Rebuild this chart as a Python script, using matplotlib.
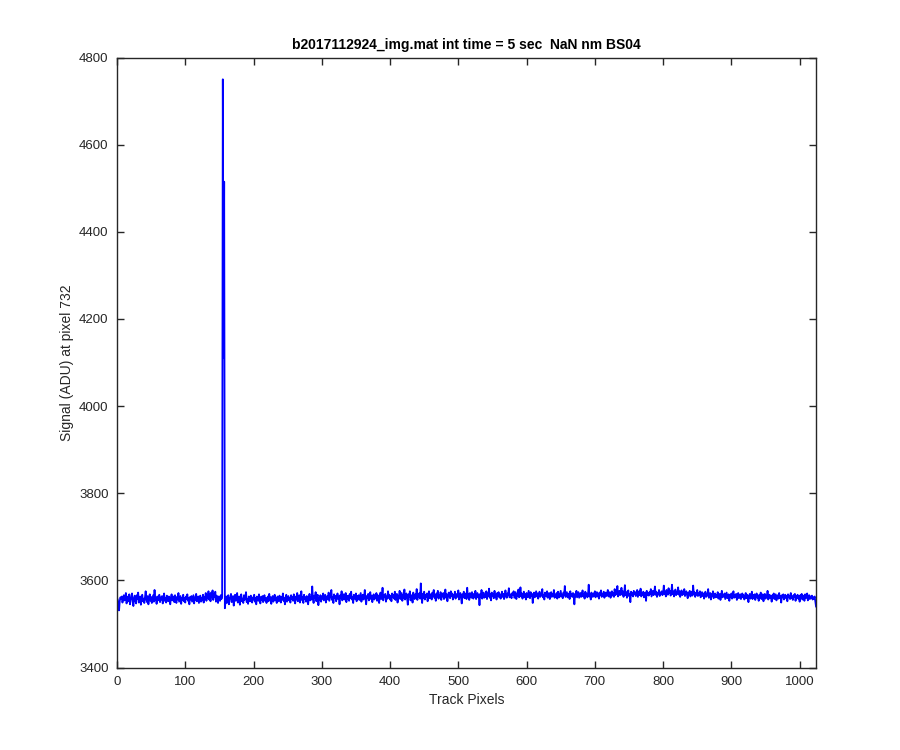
import numpy as np
import matplotlib
matplotlib.use('Agg')
import matplotlib.pyplot as plt

# baseline before the spike (pixels 1-154)
sig_a = [3556, 3548, 3531, 3552, 3561, 3557, 3563, 3549, 3558, 3566, 3554, 3560, 3571, 3547, 3559, 3563, 3552, 3568, 3545, 3556,
         3562, 3570, 3551, 3541, 3559, 3565, 3553, 3547, 3566, 3558, 3572, 3549, 3555, 3563, 3544, 3560, 3567, 3552, 3558, 3548,
         3561, 3575, 3556, 3550, 3564, 3545, 3559, 3568, 3553, 3562, 3548, 3557, 3566, 3551, 3578, 3555, 3560, 3546, 3563, 3554,
         3559, 3567, 3550, 3561, 3556, 3564, 3547, 3558, 3570, 3553, 3560, 3549, 3565, 3557, 3552, 3563, 3558, 3545, 3561, 3568,
         3554, 3559, 3563, 3550, 3566, 3557, 3548, 3562, 3556, 3571, 3551, 3558, 3564, 3546, 3560, 3555, 3567, 3552, 3559, 3549,
         3563, 3557, 3568, 3553, 3560, 3545, 3562, 3556, 3564, 3551, 3558, 3566, 3547, 3561, 3555, 3569, 3552, 3559, 3563, 3548,
         3557, 3565, 3551, 3560, 3554, 3567, 3549, 3562, 3558, 3571, 3553, 3566, 3560, 3575, 3556, 3568, 3552, 3572, 3561, 3577,
         3555, 3569, 3562, 3574, 3551, 3565, 3558, 3548, 3563, 3559, 3553, 3566, 3557, 3562]

# the spike
spike = [4750, 4110, 4515]

# baseline after the spike
sig_b = [3536, 3552, 3563, 3548, 3558, 3566, 3545, 3557, 3561, 3569, 3550, 3556, 3564, 3542, 3559, 3567, 3553, 3560, 3571, 3549,
         3557, 3563, 3544, 3560, 3568, 3552, 3558, 3548, 3566, 3555, 3561, 3573, 3550, 3557, 3546, 3563, 3559, 3552, 3565, 3557,
         3549, 3561, 3556, 3567, 3551, 3559, 3545, 3563, 3557, 3553, 3568, 3558, 3547, 3562, 3555, 3564, 3550, 3559, 3566, 3553,
         3560, 3548, 3557, 3563, 3552, 3569, 3556, 3561, 3546, 3558, 3564, 3551, 3559, 3567, 3554, 3560, 3548, 3563, 3557, 3552,
         3565, 3558, 3549, 3562, 3556, 3570, 3553, 3559, 3545, 3561, 3567, 3551, 3558, 3564, 3554, 3560, 3549, 3566, 3557, 3562,
         3553, 3568, 3559, 3547, 3563, 3556, 3571, 3552, 3560, 3566, 3549, 3558, 3575, 3555, 3562, 3548, 3567, 3557, 3561, 3551,
         3564, 3558, 3545, 3560, 3569, 3554, 3562, 3556, 3586, 3558, 3548, 3565, 3559, 3573, 3552, 3561, 3567, 3543, 3560, 3556,
         3566, 3551, 3563, 3558, 3570, 3554, 3561, 3567, 3549, 3560, 3564, 3556, 3572, 3553, 3559, 3566, 3578, 3555, 3562, 3548,
         3568, 3559, 3564, 3552, 3561, 3570, 3557, 3563, 3545, 3566, 3559, 3575, 3554, 3562, 3568, 3556, 3560, 3571, 3550, 3564,
         3558, 3565, 3553, 3569, 3560, 3574, 3556, 3562, 3548, 3567, 3561, 3557, 3570, 3552, 3564, 3559, 3566, 3555, 3563, 3571,
         3551, 3560, 3567, 3556, 3563, 3578, 3558, 3545, 3564, 3560, 3569, 3554, 3562, 3573, 3557, 3565, 3550, 3561, 3568, 3556,
         3563, 3559, 3571, 3553, 3566, 3560, 3548, 3564, 3572, 3557, 3561, 3583, 3554, 3566, 3562, 3569, 3551, 3563, 3558, 3575,
         3560, 3567, 3556, 3564, 3552, 3570, 3561, 3566, 3558, 3574, 3555, 3563, 3569, 3549, 3565, 3560, 3576, 3557, 3564, 3571,
         3553, 3566, 3560, 3579, 3556, 3563, 3570, 3558, 3544, 3568, 3562, 3575, 3554, 3566, 3560, 3549, 3572, 3563, 3557, 3568,
         3561, 3580, 3555, 3567, 3562, 3571, 3558, 3593, 3564, 3548, 3569, 3560, 3574, 3556, 3566, 3562, 3570, 3552, 3565, 3575,
         3559, 3568, 3563, 3556, 3572, 3565, 3578, 3560, 3567, 3553, 3570, 3562, 3576, 3558, 3566, 3561, 3573, 3555, 3568, 3563,
         3571, 3557, 3565, 3579, 3560, 3568, 3552, 3566, 3572, 3563, 3559, 3575, 3564, 3570, 3556, 3567, 3561, 3574, 3558, 3565,
         3569, 3562, 3577, 3556, 3566, 3571, 3560, 3547, 3568, 3563, 3574, 3559, 3566, 3570, 3557, 3583, 3562, 3568, 3555, 3571,
         3564, 3560, 3573, 3566, 3558, 3569, 3562, 3576, 3557, 3565, 3571, 3561, 3567, 3543, 3569, 3563, 3578, 3558, 3566, 3572,
         3560, 3567, 3562, 3575, 3557, 3570, 3564, 3581, 3560, 3568, 3554, 3572, 3565, 3569, 3559, 3576, 3563, 3567, 3556, 3571,
         3565, 3573, 3561, 3568, 3558, 3566, 3574, 3562, 3569, 3557, 3563, 3577, 3565, 3560, 3570, 3566, 3582, 3561, 3568, 3563,
         3559, 3571, 3566, 3575, 3560, 3567, 3573, 3557, 3569, 3564, 3579, 3561, 3566, 3584, 3563, 3570, 3558, 3566, 3574, 3562,
         3568, 3556, 3571, 3565, 3561, 3576, 3567, 3559, 3573, 3564, 3569, 3548, 3566, 3572, 3561, 3568, 3575, 3563, 3570, 3558,
         3567, 3574, 3562, 3569, 3565, 3580, 3561, 3567, 3556, 3572, 3566, 3563, 3575, 3560, 3568, 3571, 3557, 3566, 3573, 3562,
         3569, 3564, 3578, 3560, 3567, 3563, 3571, 3558, 3574, 3565, 3561, 3569, 3576, 3563, 3567, 3559, 3572, 3566, 3587, 3562,
         3568, 3573, 3561, 3566, 3570, 3557, 3575, 3564, 3568, 3562, 3571, 3566, 3545, 3569, 3563, 3576, 3561, 3567, 3573, 3560,
         3566, 3571, 3562, 3568, 3577, 3563, 3569, 3558, 3574, 3565, 3570, 3561, 3567, 3590, 3563, 3569, 3556, 3572, 3566, 3562,
         3570, 3565, 3575, 3561, 3568, 3573, 3563, 3570, 3558, 3572, 3567, 3577, 3562, 3569, 3565, 3574, 3560, 3568, 3572, 3564,
         3570, 3578, 3563, 3567, 3573, 3560, 3569, 3575, 3565, 3571, 3562, 3580, 3566, 3572, 3568, 3587, 3563, 3570, 3576, 3566,
         3572, 3583, 3567, 3575, 3562, 3570, 3589, 3566, 3573, 3560, 3571, 3577, 3564, 3569, 3550, 3574, 3567, 3571, 3563, 3576,
         3568, 3573, 3564, 3570, 3578, 3562, 3569, 3575, 3566, 3581, 3563, 3570, 3566, 3574, 3561, 3568, 3572, 3553, 3576, 3567,
         3571, 3565, 3573, 3569, 3580, 3563, 3570, 3576, 3566, 3572, 3586, 3567, 3574, 3562, 3571, 3568, 3578, 3564, 3572, 3569,
         3575, 3566, 3571, 3588, 3569, 3574, 3563, 3578, 3570, 3567, 3582, 3571, 3576, 3565, 3573, 3590, 3568, 3575, 3563, 3572,
         3579, 3566, 3574, 3569, 3584, 3567, 3575, 3562, 3571, 3577, 3566, 3573, 3568, 3580, 3564, 3571, 3575, 3567, 3559, 3572,
         3568, 3576, 3563, 3570, 3574, 3565, 3588, 3569, 3573, 3562, 3571, 3567, 3578, 3564, 3570, 3566, 3575, 3561, 3569, 3573,
         3564, 3570, 3558, 3567, 3574, 3562, 3569, 3565, 3580, 3560, 3567, 3571, 3556, 3568, 3564, 3575, 3559, 3566, 3570, 3561,
         3567, 3562, 3573, 3558, 3565, 3569, 3555, 3566, 3576, 3561, 3567, 3563, 3570, 3557, 3565, 3572, 3559, 3564, 3568, 3553,
         3566, 3561, 3570, 3558, 3564, 3575, 3560, 3567, 3562, 3569, 3555, 3566, 3571, 3559, 3564, 3568, 3557, 3563, 3570, 3561,
         3566, 3556, 3564, 3571, 3559, 3567, 3562, 3550, 3565, 3569, 3558, 3563, 3574, 3557, 3566, 3561, 3568, 3555, 3564, 3570,
         3560, 3565, 3553, 3567, 3561, 3572, 3557, 3564, 3568, 3552, 3563, 3569, 3558, 3565, 3561, 3576, 3556, 3563, 3567, 3559,
         3564, 3551, 3566, 3560, 3570, 3557, 3563, 3568, 3554, 3562, 3566, 3558, 3571, 3560, 3564, 3549, 3566, 3561, 3568, 3556,
         3563, 3567, 3559, 3564, 3552, 3568, 3561, 3565, 3557, 3571, 3560, 3563, 3555, 3566, 3562, 3569, 3553, 3564, 3560, 3567,
         3558, 3563, 3551, 3566, 3560, 3569, 3556, 3562, 3565, 3553, 3568, 3559, 3563, 3570, 3554, 3561, 3566, 3557, 3563, 3559,
         3565, 3556, 3561, 3558, 3563, 3552, 3540]

signal = np.array(sig_a + spike + sig_b)
pixels = np.arange(1, len(signal) + 1)

x_ticks = list(range(0, 1001, 100))
y_ticks = list(range(3400, 4801, 200))

plt.rcParams['font.family'] = ['Liberation Sans', 'DejaVu Sans']

fig = plt.figure(figsize=(9, 7.5), dpi=100)
ax = fig.add_axes([0.13, 0.11, 0.7767, 0.8133])

ax.plot(pixels, signal, color=(0, 0, 1), linewidth=1.3)

ax.set_xlim(0, 1024)
ax.set_ylim(3400, 4800)
ax.set_xticks(x_ticks)
ax.set_yticks(y_ticks)

edge = (0.15, 0.15, 0.15)
for s in ax.spines.values():
    s.set_color(edge)
    s.set_linewidth(1.0)
ax.tick_params(direction='in', top=True, right=True, length=5, width=1.0,
               colors=edge, labelsize=9.5, pad=6)

ax.set_title('b2017112924_img.mat int time = 5 sec  NaN nm BS04',
             fontsize=10, fontweight='bold', pad=6)
ax.set_xlabel('Track Pixels', fontsize=10, color=edge)
ax.set_ylabel('Signal (ADU) at pixel 732', fontsize=10, color=edge)

fig.savefig('out.png', dpi=100)
